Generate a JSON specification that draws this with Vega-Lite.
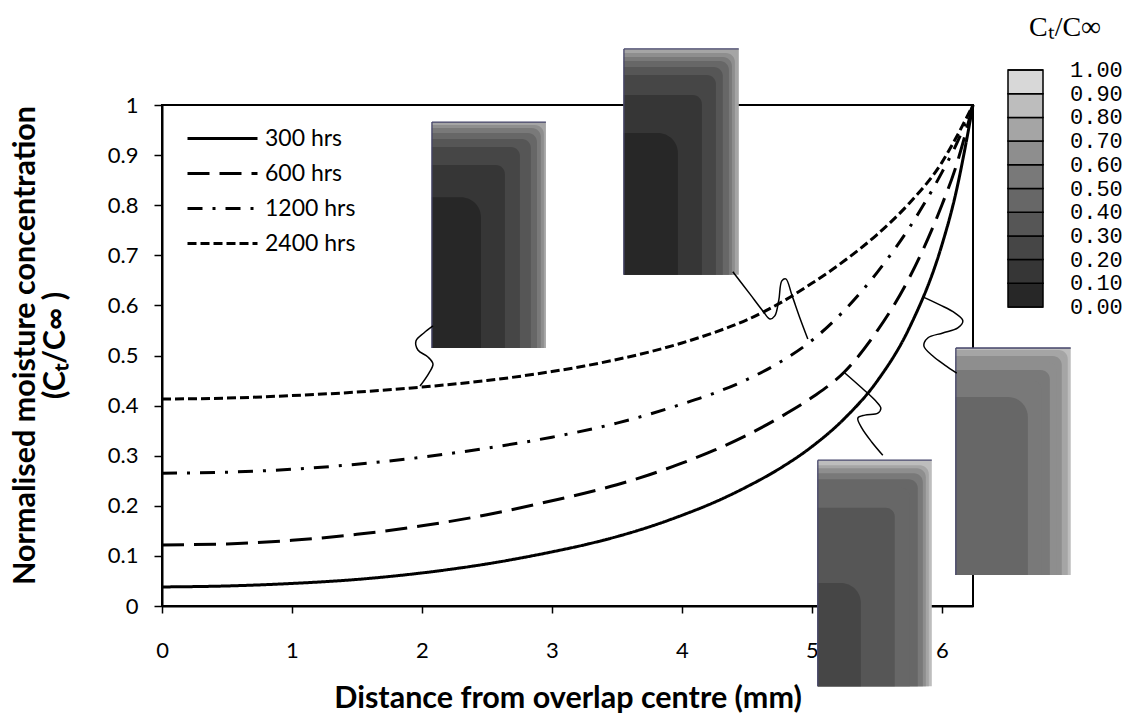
{
  "$schema": "https://vega.github.io/schema/vega-lite/v6.json",
  "width": 811,
  "height": 501,
  "autosize": {"type": "none"},
  "padding": {"left": 162, "top": 105, "right": 164, "bottom": 121},
  "config": {
    "view": {"stroke": "black", "strokeWidth": 2},
    "font": "Lato",
    "axis": {
      "domainColor": "black", "domainWidth": 2, "tickColor": "black", "tickWidth": 1.5,
      "grid": false, "labelColor": "black", "titleColor": "black",
      "labelFont": "Lato", "titleFont": "Lato", "labelFontSize": 22,
      "titleFontSize": 30.5, "titleFontWeight": "bold", "labelFlush": false
    }
  },
  "datasets": {
    "curves": [
      {"series": "300 hrs", "d": 0, "c": 0.038}, {"series": "300 hrs", "d": 0.5, "c": 0.040}, {"series": "300 hrs", "d": 1, "c": 0.045}, {"series": "300 hrs", "d": 1.5, "c": 0.053}, {"series": "300 hrs", "d": 2, "c": 0.066}, {"series": "300 hrs", "d": 2.5, "c": 0.084}, {"series": "300 hrs", "d": 3, "c": 0.108}, {"series": "300 hrs", "d": 3.25, "c": 0.122}, {"series": "300 hrs", "d": 3.5, "c": 0.1385}, {"series": "300 hrs", "d": 3.75, "c": 0.158}, {"series": "300 hrs", "d": 4, "c": 0.181}, {"series": "300 hrs", "d": 4.25, "c": 0.207}, {"series": "300 hrs", "d": 4.5, "c": 0.238}, {"series": "300 hrs", "d": 4.75, "c": 0.274}, {"series": "300 hrs", "d": 5, "c": 0.318}, {"series": "300 hrs", "d": 5.25, "c": 0.374}, {"series": "300 hrs", "d": 5.5, "c": 0.448}, {"series": "300 hrs", "d": 5.75, "c": 0.555}, {"series": "300 hrs", "d": 6, "c": 0.72}, {"series": "300 hrs", "d": 6.1, "c": 0.815}, {"series": "300 hrs", "d": 6.24, "c": 1.0},
      {"series": "600 hrs", "d": 0, "c": 0.122}, {"series": "600 hrs", "d": 0.5, "c": 0.124}, {"series": "600 hrs", "d": 1, "c": 0.131}, {"series": "600 hrs", "d": 1.5, "c": 0.143}, {"series": "600 hrs", "d": 2, "c": 0.16}, {"series": "600 hrs", "d": 2.5, "c": 0.182}, {"series": "600 hrs", "d": 3, "c": 0.21}, {"series": "600 hrs", "d": 3.25, "c": 0.225}, {"series": "600 hrs", "d": 3.5, "c": 0.242}, {"series": "600 hrs", "d": 3.75, "c": 0.262}, {"series": "600 hrs", "d": 4, "c": 0.285}, {"series": "600 hrs", "d": 4.25, "c": 0.311}, {"series": "600 hrs", "d": 4.5, "c": 0.341}, {"series": "600 hrs", "d": 4.75, "c": 0.376}, {"series": "600 hrs", "d": 5, "c": 0.416}, {"series": "600 hrs", "d": 5.25, "c": 0.467}, {"series": "600 hrs", "d": 5.5, "c": 0.548}, {"series": "600 hrs", "d": 5.75, "c": 0.655}, {"series": "600 hrs", "d": 6, "c": 0.8}, {"series": "600 hrs", "d": 6.1, "c": 0.87}, {"series": "600 hrs", "d": 6.24, "c": 1.0},
      {"series": "1200 hrs", "d": 0, "c": 0.265}, {"series": "1200 hrs", "d": 0.5, "c": 0.267}, {"series": "1200 hrs", "d": 1, "c": 0.273}, {"series": "1200 hrs", "d": 1.5, "c": 0.283}, {"series": "1200 hrs", "d": 2, "c": 0.297}, {"series": "1200 hrs", "d": 2.5, "c": 0.315}, {"series": "1200 hrs", "d": 3, "c": 0.337}, {"series": "1200 hrs", "d": 3.5, "c": 0.365}, {"series": "1200 hrs", "d": 4, "c": 0.403}, {"series": "1200 hrs", "d": 4.25, "c": 0.425}, {"series": "1200 hrs", "d": 4.5, "c": 0.452}, {"series": "1200 hrs", "d": 4.75, "c": 0.486}, {"series": "1200 hrs", "d": 5, "c": 0.53}, {"series": "1200 hrs", "d": 5.25, "c": 0.59}, {"series": "1200 hrs", "d": 5.5, "c": 0.665}, {"series": "1200 hrs", "d": 5.75, "c": 0.755}, {"series": "1200 hrs", "d": 6, "c": 0.865}, {"series": "1200 hrs", "d": 6.1, "c": 0.915}, {"series": "1200 hrs", "d": 6.24, "c": 1.0},
      {"series": "2400 hrs", "d": 0, "c": 0.413}, {"series": "2400 hrs", "d": 0.5, "c": 0.415}, {"series": "2400 hrs", "d": 1, "c": 0.42}, {"series": "2400 hrs", "d": 1.5, "c": 0.427}, {"series": "2400 hrs", "d": 2, "c": 0.437}, {"series": "2400 hrs", "d": 2.5, "c": 0.45}, {"series": "2400 hrs", "d": 3, "c": 0.468}, {"series": "2400 hrs", "d": 3.25, "c": 0.479}, {"series": "2400 hrs", "d": 3.5, "c": 0.492}, {"series": "2400 hrs", "d": 3.75, "c": 0.507}, {"series": "2400 hrs", "d": 4, "c": 0.525}, {"series": "2400 hrs", "d": 4.25, "c": 0.546}, {"series": "2400 hrs", "d": 4.5, "c": 0.571}, {"series": "2400 hrs", "d": 4.75, "c": 0.604}, {"series": "2400 hrs", "d": 5, "c": 0.644}, {"series": "2400 hrs", "d": 5.25, "c": 0.689}, {"series": "2400 hrs", "d": 5.5, "c": 0.741}, {"series": "2400 hrs", "d": 5.75, "c": 0.804}, {"series": "2400 hrs", "d": 6, "c": 0.885}, {"series": "2400 hrs", "d": 6.1, "c": 0.93}, {"series": "2400 hrs", "d": 6.24, "c": 1.0}
    ],
    "insets": [
      {"inset": "A", "ring": 7, "d": 2.077, "d2": 2.954, "c": 0.515, "c2": 0.966, "level": 0.75},
      {"inset": "A", "ring": 6, "d": 2.077, "d2": 2.938, "c": 0.515, "c2": 0.960, "level": 0.65},
      {"inset": "A", "ring": 5, "d": 2.077, "d2": 2.915, "c": 0.515, "c2": 0.954, "level": 0.55},
      {"inset": "A", "ring": 4, "d": 2.077, "d2": 2.885, "c": 0.515, "c2": 0.944, "level": 0.45},
      {"inset": "A", "ring": 3, "d": 2.077, "d2": 2.838, "c": 0.515, "c2": 0.932, "level": 0.35},
      {"inset": "A", "ring": 2, "d": 2.077, "d2": 2.754, "c": 0.515, "c2": 0.916, "level": 0.25},
      {"inset": "A", "ring": 1, "d": 2.077, "d2": 2.638, "c": 0.515, "c2": 0.880, "level": 0.15},
      {"inset": "A", "ring": 0, "d": 2.077, "d2": 2.454, "c": 0.515, "c2": 0.816, "level": 0.05},
      {"inset": "B", "ring": 7, "d": 3.554, "d2": 4.438, "c": 0.661, "c2": 1.112, "level": 0.75},
      {"inset": "B", "ring": 6, "d": 3.554, "d2": 4.408, "c": 0.661, "c2": 1.104, "level": 0.65},
      {"inset": "B", "ring": 5, "d": 3.554, "d2": 4.385, "c": 0.661, "c2": 1.096, "level": 0.55},
      {"inset": "B", "ring": 4, "d": 3.554, "d2": 4.362, "c": 0.661, "c2": 1.088, "level": 0.45},
      {"inset": "B", "ring": 3, "d": 3.554, "d2": 4.315, "c": 0.661, "c2": 1.076, "level": 0.35},
      {"inset": "B", "ring": 2, "d": 3.554, "d2": 4.262, "c": 0.661, "c2": 1.060, "level": 0.25},
      {"inset": "B", "ring": 1, "d": 3.554, "d2": 4.154, "c": 0.661, "c2": 1.020, "level": 0.15},
      {"inset": "B", "ring": 0, "d": 3.554, "d2": 3.969, "c": 0.661, "c2": 0.944, "level": 0.05},
      {"inset": "C", "ring": 7, "d": 5.046, "d2": 5.923, "c": -0.160, "c2": 0.291, "level": 0.85},
      {"inset": "C", "ring": 6, "d": 5.046, "d2": 5.900, "c": -0.160, "c2": 0.281, "level": 0.75},
      {"inset": "C", "ring": 5, "d": 5.046, "d2": 5.877, "c": -0.160, "c2": 0.275, "level": 0.65},
      {"inset": "C", "ring": 4, "d": 5.046, "d2": 5.854, "c": -0.160, "c2": 0.265, "level": 0.55},
      {"inset": "C", "ring": 3, "d": 5.046, "d2": 5.815, "c": -0.160, "c2": 0.253, "level": 0.45},
      {"inset": "C", "ring": 2, "d": 5.046, "d2": 5.754, "c": -0.160, "c2": 0.236, "level": 0.45},
      {"inset": "C", "ring": 1, "d": 5.046, "d2": 5.638, "c": -0.160, "c2": 0.196, "level": 0.35},
      {"inset": "C", "ring": 0, "d": 5.046, "d2": 5.377, "c": -0.160, "c2": 0.046, "level": 0.25},
      {"inset": "D", "ring": 7, "d": 6.108, "d2": 6.992, "c": 0.062, "c2": 0.515, "level": 0.85},
      {"inset": "D", "ring": 6, "d": 6.108, "d2": 6.969, "c": 0.062, "c2": 0.511, "level": 0.75},
      {"inset": "D", "ring": 5, "d": 6.108, "d2": 6.946, "c": 0.062, "c2": 0.507, "level": 0.75},
      {"inset": "D", "ring": 4, "d": 6.108, "d2": 6.923, "c": 0.062, "c2": 0.499, "level": 0.65},
      {"inset": "D", "ring": 3, "d": 6.108, "d2": 6.885, "c": 0.062, "c2": 0.487, "level": 0.65},
      {"inset": "D", "ring": 2, "d": 6.108, "d2": 6.831, "c": 0.062, "c2": 0.471, "level": 0.55},
      {"inset": "D", "ring": 1, "d": 6.108, "d2": 6.769, "c": 0.062, "c2": 0.449, "level": 0.55},
      {"inset": "D", "ring": 0, "d": 6.108, "d2": 6.662, "c": 0.062, "c2": 0.417, "level": 0.45}
    ],
    "links": [
      {"link": "A", "d": 2.085, "c": 0.559}, {"link": "A", "d": 2.015, "c": 0.545}, {"link": "A", "d": 1.954, "c": 0.529}, {"link": "A", "d": 1.969, "c": 0.511}, {"link": "A", "d": 2.046, "c": 0.497}, {"link": "A", "d": 2.085, "c": 0.483}, {"link": "A", "d": 2.054, "c": 0.465}, {"link": "A", "d": 1.985, "c": 0.439},
      {"link": "B", "d": 4.392, "c": 0.667}, {"link": "B", "d": 4.523, "c": 0.623}, {"link": "B", "d": 4.623, "c": 0.589}, {"link": "B", "d": 4.677, "c": 0.573}, {"link": "B", "d": 4.715, "c": 0.579}, {"link": "B", "d": 4.746, "c": 0.611}, {"link": "B", "d": 4.769, "c": 0.649}, {"link": "B", "d": 4.8, "c": 0.653}, {"link": "B", "d": 4.846, "c": 0.621}, {"link": "B", "d": 4.908, "c": 0.575}, {"link": "B", "d": 4.969, "c": 0.533},
      {"link": "C", "d": 5.254, "c": 0.465}, {"link": "C", "d": 5.385, "c": 0.435}, {"link": "C", "d": 5.485, "c": 0.411}, {"link": "C", "d": 5.531, "c": 0.395}, {"link": "C", "d": 5.508, "c": 0.385}, {"link": "C", "d": 5.408, "c": 0.381}, {"link": "C", "d": 5.354, "c": 0.375}, {"link": "C", "d": 5.385, "c": 0.355}, {"link": "C", "d": 5.462, "c": 0.327}, {"link": "C", "d": 5.546, "c": 0.301},
      {"link": "D", "d": 5.854, "c": 0.617}, {"link": "D", "d": 5.985, "c": 0.601}, {"link": "D", "d": 6.1, "c": 0.585}, {"link": "D", "d": 6.162, "c": 0.569}, {"link": "D", "d": 6.123, "c": 0.555}, {"link": "D", "d": 6.008, "c": 0.545}, {"link": "D", "d": 5.892, "c": 0.535}, {"link": "D", "d": 5.862, "c": 0.519}, {"link": "D", "d": 5.931, "c": 0.499}, {"link": "D", "d": 6.023, "c": 0.481}, {"link": "D", "d": 6.115, "c": 0.465}
    ]
  },
  "encoding": {
    "x": {"field": "d", "type": "quantitative", "scale": {"domain": [0, 6.24], "nice": false, "zero": false},
      "axis": {"title": "Distance from overlap centre (mm)", "values": [0, 1, 2, 3, 4, 5, 6], "tickSize": 7, "labelPadding": 27, "titlePadding": 22}},
    "y": {"field": "c", "type": "quantitative", "scale": {"domain": [0, 1], "nice": false},
      "axis": {"title": ["Normalised moisture concentration", "(Cₜ/C∞ )"], "values": [0, 0.1, 0.2, 0.3, 0.4, 0.5, 0.6, 0.7, 0.8, 0.9, 1], "format": "~g", "tickSize": 8, "labelPadding": 16, "titleLineHeight": 30, "titleX": -137, "titleY": 240, "titleBaseline": "middle", "titleAngle": -90, "titleAlign": "center"}}
  },
  "layer": [
    {
      "data": {"name": "curves"},
      "mark": {"type": "line", "color": "black", "strokeWidth": 3, "interpolate": "monotone", "clip": false},
      "encoding": {
        "strokeDash": {"field": "series", "type": "nominal",
          "scale": {"domain": ["300 hrs", "600 hrs", "1200 hrs", "2400 hrs"], "range": [[1, 0], [22, 10], [15, 10, 3, 10], [9, 4]]},
          "legend": {"orient": "none", "legendX": 49, "legendY": 22, "title": null, "padding": 0,
            "symbolType": "M-3.5,0H3.5", "symbolSize": 400, "symbolStrokeWidth": 3, "symbolStrokeColor": "black",
            "labelFont": "Lato", "labelFontSize": 23, "labelColor": "black", "labelOffset": 31, "rowPadding": 11}}
      }
    },
    {
      "data": {"name": "insets"},
      "transform": [{"filter": "datum.ring == 7"}],
      "mark": {"type": "rect", "clip": false},
      "encoding": {
        "x2": {"field": "d2"},
        "y2": {"field": "c2"},
        "color": {"field": "level", "type": "quantitative",
          "scale": {"type": "quantize", "domain": [0, 1], "range": ["#272727", "#363636", "#464646", "#565656", "#676767", "#797979", "#8e8e8e", "#a5a5a5", "#bdbdbd", "#d8d8d8"]},
          "legend": {"type": "gradient", "orient": "none", "direction": "vertical", "legendX": 846, "legendY": -91, "padding": 0,
            "title": "Cₜ/C∞", "titleFont": "Liberation Serif", "titleFontSize": 28, "titleFontWeight": "normal", "titleColor": "black", "titleAnchor": "middle", "titlePadding": 28,
            "gradientLength": 237, "gradientThickness": 35, "gradientStrokeColor": "black", "gradientStrokeWidth": 1.5,
            "values": [-1, 0, 0.1, 0.2, 0.3, 0.4, 0.5, 0.6, 0.7, 0.8, 0.9, 1],
            "labelFont": "Liberation Mono", "labelFontSize": 22, "labelColor": "black", "labelOffset": 27, "format": ".2f", "labelOverlap": false,
            "encode": {"labels": {"update": {"baseline": {"value": "middle"}}}}}}
      }
    },
    {
      "data": {"name": "insets"},
      "transform": [{"filter": "datum.ring > 0 && datum.ring < 7"}],
      "mark": {"type": "rect", "clip": false, "cornerRadiusTopRight": 9},
      "encoding": {
        "x2": {"field": "d2"},
        "y2": {"field": "c2"},
        "color": {"field": "level", "type": "quantitative",
          "scale": {"type": "quantize", "domain": [0, 1], "range": ["#272727", "#363636", "#464646", "#565656", "#676767", "#797979", "#8e8e8e", "#a5a5a5", "#bdbdbd", "#d8d8d8"]}}
      }
    },
    {
      "data": {"name": "insets"},
      "transform": [{"filter": "datum.ring == 0"}],
      "mark": {"type": "rect", "clip": false, "cornerRadiusTopRight": 20},
      "encoding": {
        "x2": {"field": "d2"},
        "y2": {"field": "c2"},
        "color": {"field": "level", "type": "quantitative",
          "scale": {"type": "quantize", "domain": [0, 1], "range": ["#272727", "#363636", "#464646", "#565656", "#676767", "#797979", "#8e8e8e", "#a5a5a5", "#bdbdbd", "#d8d8d8"]}}
      }
    },
    {
      "data": {"name": "insets"},
      "transform": [{"filter": "datum.ring == 7"}],
      "mark": {"type": "rule", "clip": false, "color": "#45456a", "strokeWidth": 1.3},
      "encoding": {
        "y2": {"field": "c2"}
      }
    },
    {
      "data": {"name": "insets"},
      "transform": [{"filter": "datum.ring == 7"}],
      "mark": {"type": "rule", "clip": false, "color": "#45456a", "strokeWidth": 1.3},
      "encoding": {
        "x2": {"field": "d2"},
        "y": {"field": "c2", "type": "quantitative"}
      }
    },
    {
      "data": {"name": "links"},
      "mark": {"type": "line", "color": "black", "strokeWidth": 1.5, "interpolate": "catmull-rom", "clip": false},
      "encoding": {
        "detail": {"field": "link", "type": "nominal"},
        "order": {"value": null}
      }
    }
  ]
}
